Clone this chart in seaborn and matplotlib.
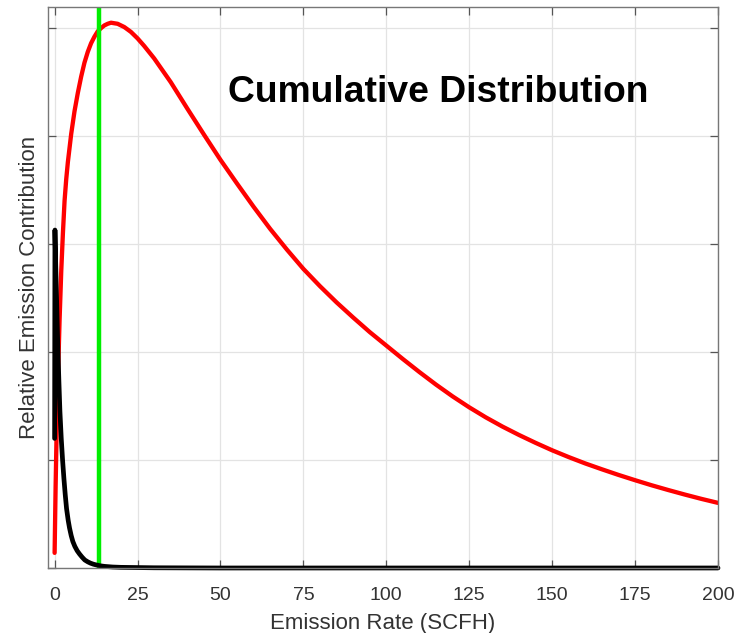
import numpy as np
import pandas as pd
import matplotlib
matplotlib.use("Agg")
import matplotlib.pyplot as plt
import seaborn as sns

# red curve: relative emission contribution
red_x = [0, 0.3, 0.6, 1.0, 1.5, 2.0, 2.5, 3.0, 3.5, 4.0, 5.0, 6.0, 7.0, 8.0, 9.0, 10, 11,
         12, 13, 14, 15, 16, 17, 19, 21, 23, 25, 27, 30, 35, 40, 45, 50, 55, 60, 65, 70,
         75, 80, 85, 90, 95, 100, 105, 110, 115, 120, 125, 130, 135, 140, 145, 150, 155,
         160, 165, 170, 175, 180, 185, 190, 195, 200]
red_y = [0.14, 0.75, 1.25, 1.75, 2.3, 2.75, 3.1, 3.4, 3.6, 3.76, 4.02, 4.23, 4.4, 4.55,
         4.68, 4.78, 4.86, 4.92, 4.97, 5.0, 5.025, 5.04, 5.05, 5.04, 5.01, 4.965, 4.905,
         4.835, 4.72, 4.50, 4.255, 4.015, 3.78, 3.56, 3.345, 3.14, 2.95, 2.77, 2.61, 2.46,
         2.32, 2.185, 2.06, 1.935, 1.814, 1.698, 1.589, 1.488, 1.395, 1.31, 1.232, 1.159,
         1.09, 1.027, 0.968, 0.914, 0.862, 0.813, 0.766, 0.722, 0.68, 0.64, 0.603]

# black curve
black_x = [0, 0.1, 0.3, 0.5, 0.75, 1.0, 1.3, 1.6, 2.0, 2.4, 2.8, 3.2, 3.6, 4.1, 4.5, 5.0,
           5.5, 6.1, 6.8, 7.5, 8.3, 9.1, 10, 10.8, 11.7, 12.6, 13.8, 15, 17.5, 20, 25, 30,
           40, 50, 100, 200]
black_y = [1.2, 3.13, 2.85, 2.6, 2.3, 2.02, 1.72, 1.45, 1.2, 1.0, 0.83, 0.68, 0.55, 0.44,
           0.37, 0.3, 0.245, 0.2, 0.16, 0.13, 0.1, 0.074, 0.057, 0.045, 0.035, 0.028, 0.02,
           0.015, 0.009, 0.006, 0.004, 0.002, 0.001, 0.0, 0.0, 0.0]

# green marker line
green_x = 13.3

x_ticks = [0, 25, 50, 75, 100, 125, 150, 175, 200]
y_ticks = [0, 1, 2, 3, 4, 5]

sns.set_theme(style="whitegrid")
plt.rcParams['font.family'] = ['Liberation Sans', 'DejaVu Sans']

fig = plt.figure(figsize=(7.52, 6.33), dpi=100)
ax = fig.add_axes([0.0638, 0.1027, 0.8910, 0.8870])

df_red = pd.DataFrame({'x': red_x, 'y': red_y})
df_black = pd.DataFrame({'x': black_x, 'y': black_y})

sns.lineplot(data=df_red, x='x', y='y', ax=ax, color='#ff0000', linewidth=3.1, sort=False)
ax.axvline(green_x, color='#00ee00', linewidth=3.2)
sns.lineplot(data=df_black, x='x', y='y', ax=ax, color='black', linewidth=3.4, sort=False,
             clip_on=False)

ax.set_xlim(-2, 200)
ax.set_ylim(0, 5.2)
ax.set_xticks(x_ticks)
ax.set_yticks(y_ticks)
ax.set_yticklabels([])
ax.grid(True, color='#e3e3e3', linewidth=0.9)

ax.tick_params(axis='both', direction='in', length=6, width=0.9, color='#555555',
               top=True, right=True, bottom=True, left=True, labelsize=14,
               labelcolor='#333333')
ax.tick_params(axis='x', pad=14)
for s in ax.spines.values():
    s.set_color('#777777')
    s.set_linewidth(1.0)

ax.set_xlabel('Emission Rate (SCFH)', fontsize=16, color='#333333', labelpad=6)
ax.set_ylabel('Relative Emission Contribution', fontsize=16, color='#333333', labelpad=2)

ax.text(52.2, 4.40, 'Cumulative Distribution', fontsize=26.8, fontweight='bold',
        color='black', ha='left', va='center')

fig.savefig('out.png', dpi=100)
